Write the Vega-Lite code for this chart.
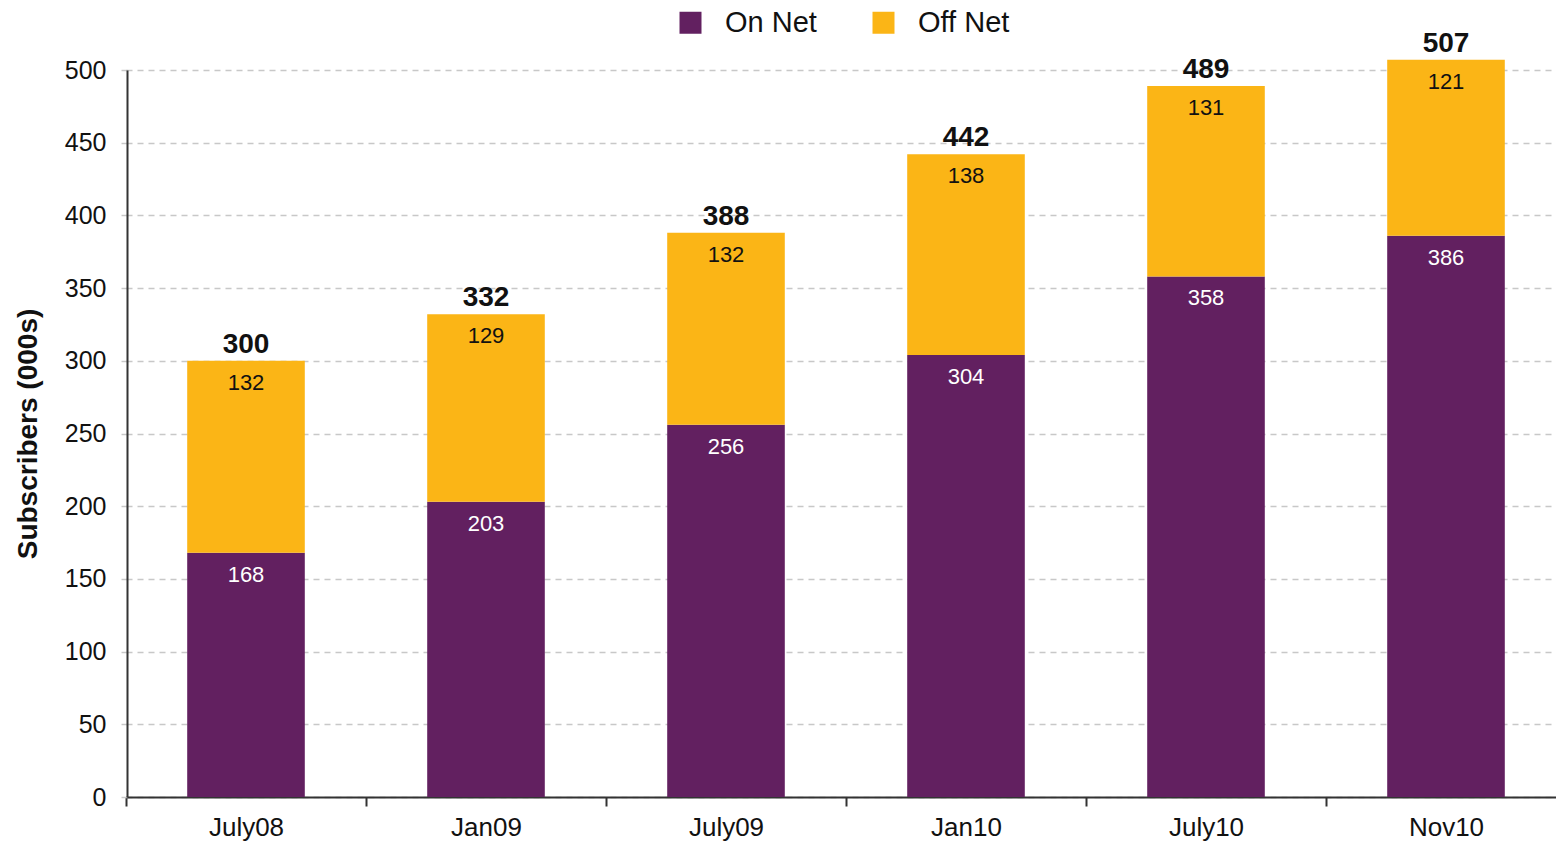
{
  "$schema": "https://vega.github.io/schema/vega-lite/v6.json",
  "width": 1429,
  "height": 727,
  "autosize": {"type": "none"},
  "padding": {"left": 127, "top": 70, "right": 0, "bottom": 46},
  "background": "white",
  "config": {"font": "Liberation Sans", "view": {"stroke": null}},
  "data": {
    "values": [
      {"period": "July08", "type": "On Net", "value": 168},
      {"period": "July08", "type": "Off Net", "value": 132},
      {"period": "Jan09", "type": "On Net", "value": 203},
      {"period": "Jan09", "type": "Off Net", "value": 129},
      {"period": "July09", "type": "On Net", "value": 256},
      {"period": "July09", "type": "Off Net", "value": 132},
      {"period": "Jan10", "type": "On Net", "value": 304},
      {"period": "Jan10", "type": "Off Net", "value": 138},
      {"period": "July10", "type": "On Net", "value": 358},
      {"period": "July10", "type": "Off Net", "value": 131},
      {"period": "Nov10", "type": "On Net", "value": 386},
      {"period": "Nov10", "type": "Off Net", "value": 121}
    ]
  },
  "encoding": {
    "x": {
      "field": "period", "type": "nominal", "sort": null,
      "scale": {"range": [-1, 1439], "paddingInner": 0, "paddingOuter": 0},
      "axis": {
        "title": null, "labelAngle": 0, "labelFontSize": 26, "labelColor": "#111",
        "tickBand": "extent", "tickSize": 9, "tickColor": "#333", "tickWidth": 2,
        "domainColor": "#333", "domainWidth": 2, "labelPadding": 8, "grid": false
      }
    }
  },
  "layer": [
    {
      "mark": {"type": "bar", "width": {"band": 0.49}},
      "encoding": {
        "y": {
          "field": "value", "type": "quantitative", "stack": "zero",
          "scale": {"domain": [0, 500], "nice": false},
          "axis": {
            "title": "Subscribers (000s)", "titleFontSize": 28, "titleFontWeight": "bold",
            "titleColor": "#111", "titlePadding": 22,
            "labelFontSize": 25, "labelColor": "#111", "labelPadding": 12,
            "values": [0, 50, 100, 150, 200, 250, 300, 350, 400, 450, 500],
            "grid": true, "gridColor": "#c8c8c8", "gridDash": [6, 5], "gridWidth": 1.5,
            "tickColor": "#c8c8c8", "tickDash": [6, 5], "tickSize": 9, "tickWidth": 1.5,
            "domainColor": "#333", "domainWidth": 2
          }
        },
        "color": {
          "field": "type", "type": "nominal",
          "scale": {"domain": ["On Net", "Off Net"], "range": ["#622060", "#FBB516"]},
          "legend": {
            "title": null, "orient": "none", "legendX": 549, "legendY": -62,
            "direction": "horizontal", "symbolType": "square", "symbolSize": 484,
            "symbolStrokeWidth": 0, "labelFontSize": 29, "labelColor": "#111",
            "labelOffset": 20, "columnPadding": 52, "padding": 0
          }
        },
        "order": {"field": "type", "sort": "descending"}
      }
    },
    {
      "mark": {"type": "text", "baseline": "middle", "dy": 22, "fontSize": 22},
      "encoding": {
        "y": {"field": "value", "type": "quantitative", "stack": "zero"},
        "detail": {"field": "type"},
        "order": {"field": "type", "sort": "descending"},
        "text": {"field": "value", "type": "quantitative"},
        "fill": {"condition": {"test": "datum.type === 'On Net'", "value": "white"}, "value": "#111"}
      }
    },
    {
      "transform": [
        {"aggregate": [{"op": "sum", "field": "value", "as": "total"}], "groupby": ["period"]}
      ],
      "mark": {"type": "text", "baseline": "alphabetic", "dy": -8, "fontSize": 28, "fontWeight": "bold", "color": "#111"},
      "encoding": {
        "y": {"field": "total", "type": "quantitative"},
        "text": {"field": "total", "type": "quantitative"}
      }
    }
  ]
}
